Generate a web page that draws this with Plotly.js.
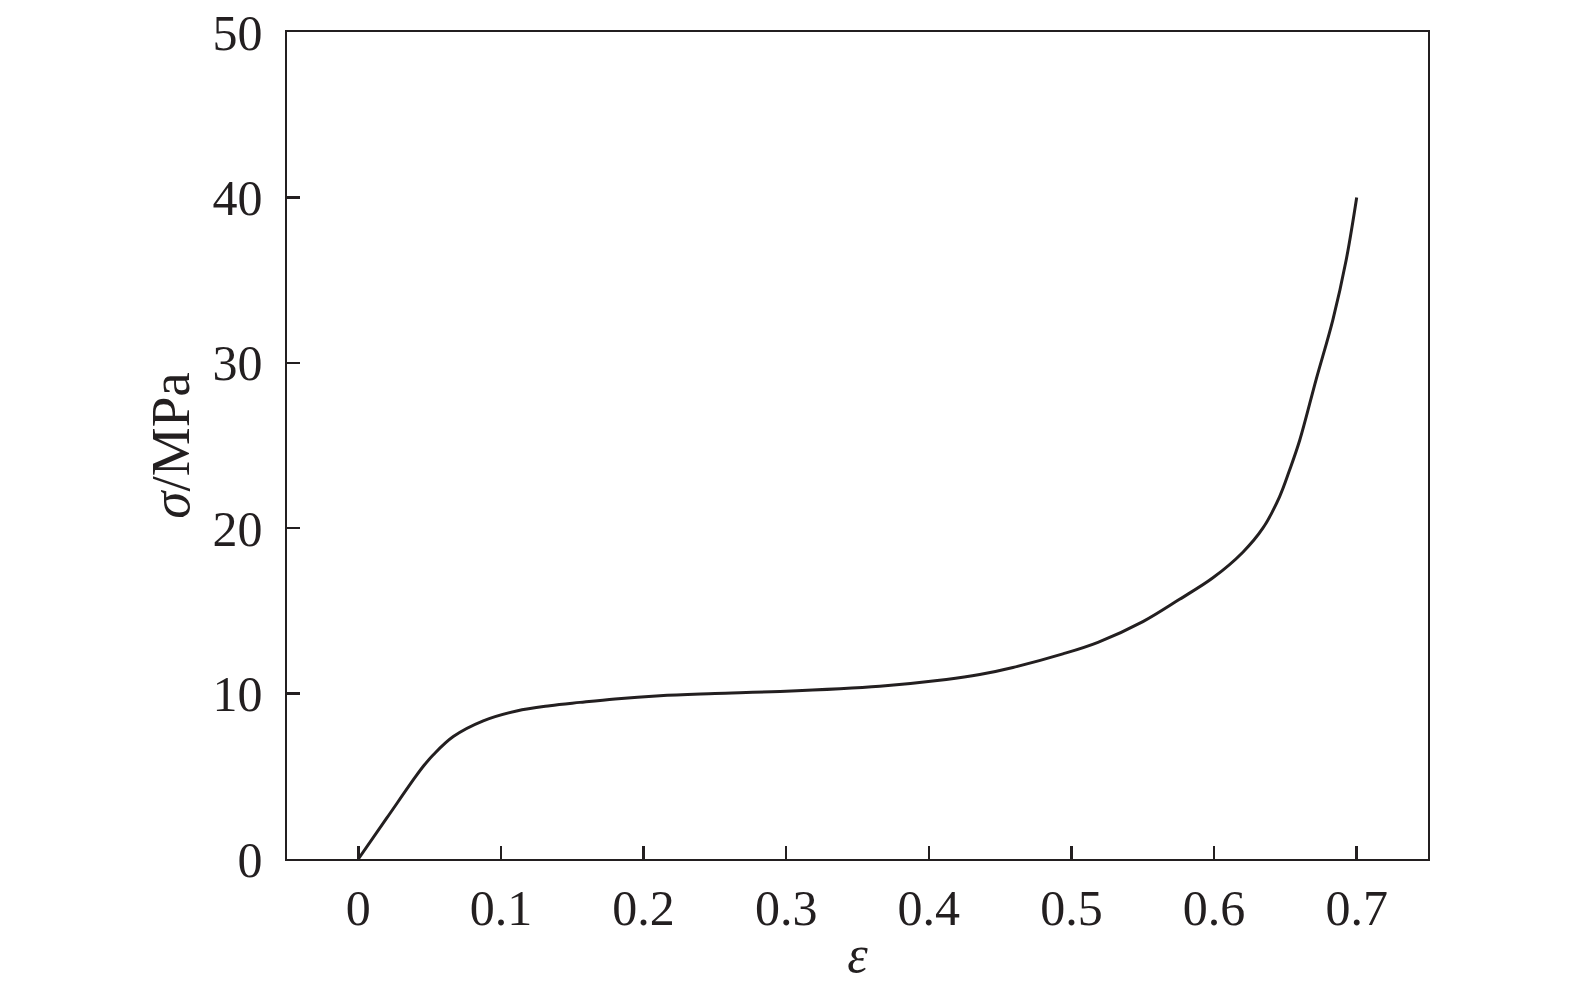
<!DOCTYPE html>
<html>
<head>
<meta charset="utf-8">
<script src="https://cdn.plot.ly/plotly-3.0.1.min.js"></script>
<style>
html,body{margin:0;padding:0;background:#fff;}
#chart{width:1575px;height:984px;}
</style>
</head>
<body>
<div id="chart"></div>
<script>
const strain = [0, 0.02, 0.04, 0.046, 0.0526, 0.0666, 0.0876, 0.111, 0.1343, 0.1554, 0.18, 0.2114, 0.25, 0.2955, 0.3656, 0.4123, 0.4357, 0.459, 0.494, 0.5186, 0.5501, 0.5758, 0.5992, 0.6202, 0.6342, 0.6459, 0.6529, 0.66, 0.6716, 0.6833, 0.6926, 0.7];
const stress = [0, 2.48, 4.96, 5.65, 6.3, 7.4, 8.35, 8.95, 9.27, 9.47, 9.68, 9.87, 10.0, 10.13, 10.45, 10.85, 11.15, 11.58, 12.4, 13.1, 14.35, 15.7, 17.0, 18.55, 20.0, 21.9, 23.5, 25.3, 29.0, 32.6, 36.2, 40.0];
const xTicks = [0, 0.1, 0.2, 0.3, 0.4, 0.5, 0.6, 0.7];
const xTickText = ['0', '0.1', '0.2', '0.3', '0.4', '0.5', '0.6', '0.7'];
const yTicks = [0, 10, 20, 30, 40, 50];

const ink = '#231f20';
const fontFam = '"Liberation Serif", "Times New Roman", serif';

const trace = {
  x: strain, y: stress, type: 'scatter', mode: 'lines',
  line: {color: ink, width: 3, shape: 'spline', smoothing: 1},
  hoverinfo: 'skip'
};

const layout = {
  width: 1575, height: 984,
  margin: {l: 287, r: 147, t: 32, b: 125},
  paper_bgcolor: '#fff', plot_bgcolor: '#fff',
  showlegend: false,
  font: {family: fontFam, color: ink, size: 50},
  xaxis: {
    range: [-0.05, 0.75], tickvals: xTicks, ticktext: xTickText,
    ticks: 'inside', ticklen: 13, tickwidth: 2.4, tickcolor: ink,
    showline: true, linewidth: 2.4, linecolor: ink, mirror: true,
    showgrid: false, zeroline: false,
    tickfont: {family: fontFam, size: 50, color: ink},
    ticklabelstandoff: 4,
    title: {text: '<i>ε</i>', font: {family: fontFam, size: 52, color: ink}, standoff: 0}
  },
  yaxis: {
    range: [0, 50], tickvals: yTicks,
    ticks: 'inside', ticklen: 13, tickwidth: 2.4, tickcolor: ink,
    showline: true, linewidth: 2.4, linecolor: ink, mirror: true,
    showgrid: false, zeroline: false,
    tickfont: {family: fontFam, size: 50, color: ink},
    ticklabelstandoff: 12,
    title: {text: '<i>σ</i>/MPa', font: {family: fontFam, size: 55, color: ink}, standoff: 6}
  }
};

Plotly.newPlot('chart', [trace], layout, {staticPlot: true, displayModeBar: false});
</script>
</body>
</html>
